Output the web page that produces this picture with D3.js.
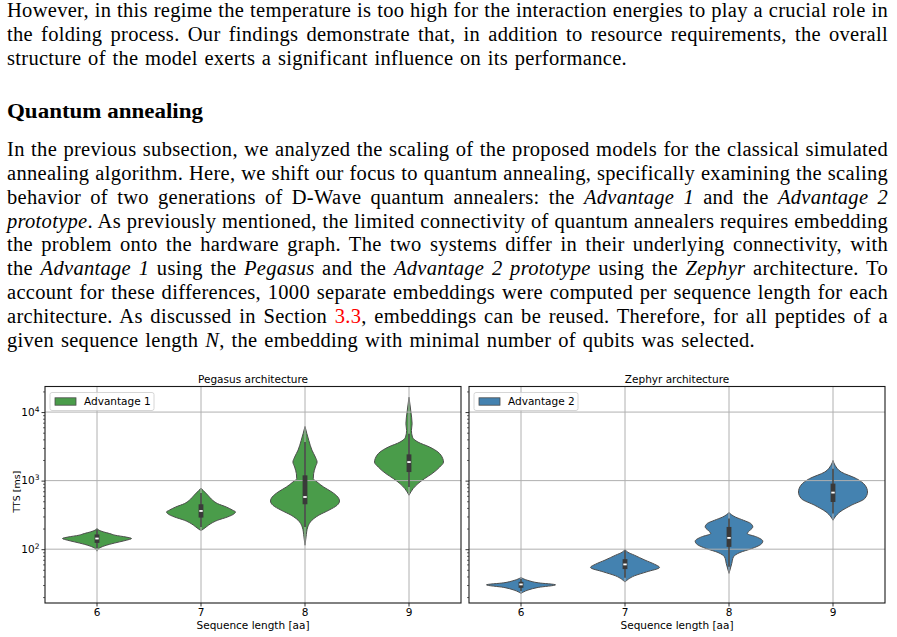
<!DOCTYPE html>
<html><head><meta charset="utf-8">
<script src="https://cdn.jsdelivr.net/npm/d3@7"></script>
<style>body{margin:0;background:#fff}svg{display:block}</style>
</head><body>
<script>
// ================= DATA =================
const categories = ["6", "7", "8", "9"];
const panelTitles = ["Pegasus architecture", "Zephyr architecture"];
const seriesNames = ["Advantage 1", "Advantage 2"];
const seriesColors = ["#4a9c4a", "#4482b0"];
const xLabel = "Sequence length [aa]";
const yLabel = "TTS [ms]";
const yMajorTicks = [100, 1000, 10000];
const yMinorTicks = [20,30,40,50,60,70,80,90,200,300,400,500,600,700,800,900,2000,3000,4000,5000,6000,7000,8000,9000,20000];

// violin outlines: [TTS value (ms), relative half-width]
const adv1Shapes = [
  [[202,0],[189,0.06],[179,0.18],[169,0.37],[160,0.52],[150,0.85],[143,1],[135,0.85],[128,0.66],[118,0.37],[111,0.2],[102,0.05],[93.5,0]],
  [[773,0],[722,0.06],[611,0.2],[516,0.34],[462,0.48],[413,0.73],[370,0.92],[349,1],[331,0.97],[295,0.77],[264,0.48],[237,0.29],[211,0.15],[189,0.02]],
  [[6170,0],[3860,0.11],[2790,0.2],[2205,0.3],[1866,0.35],[1578,0.3],[1265,0.25],[1069,0.24],[955,0.35],[807,0.54],[682,0.78],[577,0.95],[505,1],[437,0.93],[370,0.69],[313,0.4],[264,0.2],[211,0.08],[151,0.03],[114,0]],
  [[16480,0],[10550,0.05],[6760,0.09],[5400,0.07],[4310,0.1],[3650,0.26],[3085,0.6],[2610,0.84],[2090,0.98],[1866,1],[1578,0.89],[1265,0.67],[1069,0.45],[904,0.26],[765,0.12],[611,0]]
];
const adv2Shapes = [
  [[38.5,0],[35.0,0.2],[32.3,0.5],[30.2,1],[27.7,0.5],[25.3,0.2],[22.6,0]],
  [[100,0],[90.4,0.08],[81.8,0.27],[69.2,0.58],[60.5,0.85],[54.2,1],[46.7,0.63],[40.8,0.27],[36.6,0.1],[33.1,0]],
  [[342,0],[295,0.18],[264,0.42],[237,0.63],[211,0.69],[189,0.61],[169,0.53],[151,0.8],[131,0.98],[117,0.92],[102,0.66],[89.5,0.32],[77.3,0.13],[61.9,0.08],[44.3,0]],
  [[1973,0],[1671,0.06],[1334,0.24],[1069,0.68],[855,0.93],[682,1],[547,0.92],[437,0.53],[349,0.2],[295,0.06],[264,0]]
];
// box stats: [whisker low, q1, median, q3, whisker high]
const adv1Box = [[103.5,123.5,143,164,195],[211,289,361,452,660],[211,452,577,1194,3650],[807,1334,1866,2415,4830]];
const adv2Box = [[24.5,27.3,30.6,33.4,36.6],[38.2,51.2,59.9,71.5,96.7],[55.2,108,146,211,280],[331,488,669,904,1496]];

// body text lines (segments: n normal, i italic, r red reference)
const introLines = [
  [["n","However, in this regime the temperature is too high for the interaction energies to play a crucial role in"]],
  [["n","the folding process. Our findings demonstrate that, in addition to resource requirements, the overall"]],
  [["n","structure of the model exerts a significant influence on its performance."]]
];
const headingText = "Quantum annealing";
const paraLines = [
  [["n","In the previous subsection, we analyzed the scaling of the proposed models for the classical simulated"]],
  [["n","annealing algorithm. Here, we shift our focus to quantum annealing, specifically examining the scaling"]],
  [["n","behavior of two generations of D-Wave quantum annealers: the "],["i","Advantage 1"],["n"," and the "],["i","Advantage 2"]],
  [["i","prototype"],["n",". As previously mentioned, the limited connectivity of quantum annealers requires embedding"]],
  [["n","the problem onto the hardware graph. The two systems differ in their underlying connectivity, with"]],
  [["n","the "],["i","Advantage 1"],["n"," using the "],["i","Pegasus"],["n"," and the "],["i","Advantage 2 prototype"],["n"," using the "],["i","Zephyr"],["n"," architecture. To"]],
  [["n","account for these differences, 1000 separate embeddings were computed per sequence length for each"]],
  [["n","architecture. As discussed in Section "],["r","3.3"],["n",", embeddings can be reused. Therefore, for all peptides of a"]],
  [["n","given sequence length "],["i","N"],["n",", the embedding with minimal number of qubits was selected."]]
];

// ================= DRAW =================
const W = 897, H = 637;
const svg = d3.select("body").append("svg").attr("width", W).attr("height", H);

// ---- text ----
const serif = "'Liberation Serif', 'Times New Roman', serif";
const textX = 7, bodySize = 20.5;
function drawLine(segs, y, rightX) {
  const t = svg.append("text").attr("x", textX).attr("y", y)
    .attr("font-family", serif).attr("font-size", bodySize)
    .attr("fill", "#000")
    .style("white-space", "pre").style("letter-spacing", "0.3px");
  segs.forEach(([k, s]) => {
    t.append("tspan").text(s)
      .attr("font-style", k === "i" ? "italic" : "normal")
      .attr("fill", k === "r" ? "#ff0000" : "#000");
  });
  const natural = t.node().getComputedTextLength();
  const full = segs.map(d => d[1]).join("");
  const spaces = (full.match(/ /g) || []).length;
  if (spaces > 0) t.style("word-spacing", ((rightX - textX - natural) / spaces) + "px");
  return t;
}
const introY = [17, 41, 65];
const introRight = [888, 888, 627];
introLines.forEach((l, i) => drawLine(l, introY[i], introRight[i]));
svg.append("text").attr("x", textX).attr("y", 118)
  .attr("font-family", serif).attr("font-size", 20.5).attr("font-weight", "bold")
  .attr("textLength", 196).attr("lengthAdjust", "spacingAndGlyphs").text(headingText);
paraLines.forEach((l, i) => drawLine(l, 156 + 23.84 * i, i === paraLines.length - 1 ? 755 : 888));

// ---- chart ----
const sans = "'DejaVu Sans', sans-serif";
const yTop = 386.5, yBot = 603;
const y = d3.scaleLog().domain([16.4, 23600]).range([yBot, yTop]);
const wScale = d3.scaleLinear().domain([0, 1]).range([0, 34.5]);
const panels = [
  {x0: 45, x1: 461, shapes: adv1Shapes, box: adv1Box, showY: true},
  {x0: 469, x1: 885, shapes: adv2Shapes, box: adv2Box, showY: false}
];

panels.forEach((p, pi) => {
  const x = d3.scaleBand().domain(categories).range([p.x0, p.x1]).padding(0);
  const cx = c => x(c) + x.bandwidth() / 2;
  const g = svg.append("g");

  // violins
  categories.forEach((c, ci) => {
    const area = d3.area()
      .y(d => y(d[0]))
      .x0(d => cx(c) - wScale(d[1]))
      .x1(d => cx(c) + wScale(d[1]))
      .curve(d3.curveMonotoneY);
    g.append("path").attr("d", area(p.shapes[ci]))
      .attr("fill", seriesColors[pi]).attr("stroke", "#4d4d4d").attr("stroke-width", 1);
  });

  // grid
  g.selectAll(".vg").data(categories).enter().append("line")
    .attr("x1", cx).attr("x2", cx).attr("y1", yTop).attr("y2", yBot)
    .attr("stroke", "#b0b0b0").attr("stroke-width", 1);
  g.selectAll(".hg").data(yMajorTicks).enter().append("line")
    .attr("x1", p.x0).attr("x2", p.x1).attr("y1", d => y(d)).attr("y2", d => y(d))
    .attr("stroke", "#b0b0b0").attr("stroke-width", 1);

  // inner boxes
  categories.forEach((c, ci) => {
    const [lo, q1, med, q3, hi] = p.box[ci];
    g.append("line").attr("x1", cx(c)).attr("x2", cx(c)).attr("y1", y(lo)).attr("y2", y(hi))
      .attr("stroke", "#3a3a3a").attr("stroke-width", 1.4);
    g.append("rect").attr("x", cx(c) - 2.4).attr("width", 4.8)
      .attr("y", y(q3)).attr("height", y(q1) - y(q3)).attr("fill", "#3a3a3a");
    g.append("rect").attr("x", cx(c) - 1.7).attr("width", 3.4)
      .attr("y", y(med) - 0.9).attr("height", 1.8).attr("fill", "#ffffff");
  });

  // axes
  const xa = g.append("g").attr("transform", `translate(0,${yBot})`)
    .call(d3.axisBottom(x).tickSize(3.5).tickPadding(2.5));
  xa.select(".domain").remove();
  xa.selectAll("text").attr("font-family", sans).attr("font-size", 10.5).attr("fill", "#000");
  xa.selectAll("line").attr("stroke", "#000").attr("stroke-width", 0.8);

  const ya = g.append("g").attr("transform", `translate(${p.x0},0)`)
    .call(d3.axisLeft(y).tickValues(yMajorTicks).tickSize(3.5).tickFormat(""));
  ya.select(".domain").remove();
  ya.selectAll("line").attr("stroke", "#000").attr("stroke-width", 0.8);
  const ym = g.append("g").attr("transform", `translate(${p.x0},0)`)
    .call(d3.axisLeft(y).tickValues(yMinorTicks).tickSize(2).tickFormat(""));
  ym.select(".domain").remove();
  ym.selectAll("line").attr("stroke", "#000").attr("stroke-width", 0.6);

  if (p.showY) {
    ya.selectAll(".tick").each(function(d) {
      const t = d3.select(this).select("text")
        .attr("font-family", sans).attr("font-size", 10.5).attr("fill", "#000")
        .attr("x", -5.5).attr("dy", "0.32em").attr("text-anchor", "end");
      t.text(null);
      t.append("tspan").text("10");
      t.append("tspan").text(String(Math.round(Math.log10(d))))
        .attr("font-size", 7.5).attr("dy", "-0.55em");
    });
    svg.append("text").attr("transform", `translate(19.5,${(yTop + yBot) / 2 - 3}) rotate(-90)`)
      .attr("text-anchor", "middle").attr("font-family", sans).attr("font-size", 9.5).text(yLabel);
  }

  // spines
  g.append("rect").attr("x", p.x0).attr("y", yTop).attr("width", p.x1 - p.x0).attr("height", yBot - yTop)
    .attr("fill", "none").attr("stroke", "#1a1a1a").attr("stroke-width", 1.1);

  // titles
  g.append("text").attr("x", (p.x0 + p.x1) / 2).attr("y", 382.5).attr("text-anchor", "middle")
    .attr("font-family", sans).attr("font-size", 10.5).text(panelTitles[pi]);
  g.append("text").attr("x", (p.x0 + p.x1) / 2).attr("y", 628.5).attr("text-anchor", "middle")
    .attr("font-family", sans).attr("font-size", 10.5).text(xLabel);

  // legend
  const lg = g.append("g").attr("transform", `translate(${p.x0 + 5},${yTop + 6})`);
  lg.append("rect").attr("width", 104).attr("height", 18).attr("rx", 2)
    .attr("fill", "#fff").attr("fill-opacity", 0.8).attr("stroke", "#cccccc").attr("stroke-width", 0.8);
  lg.append("rect").attr("x", 5).attr("y", 5.3).attr("width", 21).attr("height", 7.4)
    .attr("fill", seriesColors[pi]).attr("stroke", "#4d4d4d").attr("stroke-width", 0.8);
  lg.append("text").attr("x", 34).attr("y", 12.8).attr("font-family", sans).attr("font-size", 10.5)
    .text(seriesNames[pi]);
});
</script>
</body></html>
